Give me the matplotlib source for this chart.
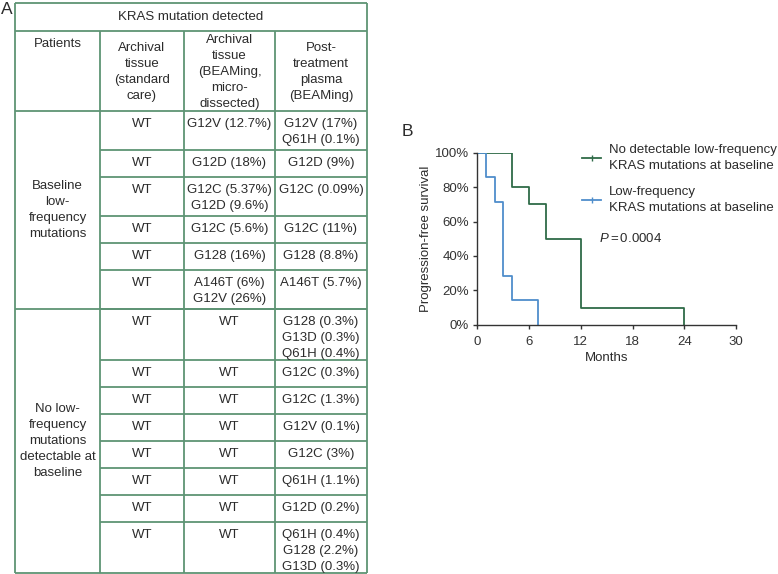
import numpy as np
import matplotlib.pyplot as plt
from matplotlib.lines import Line2D
from matplotlib.ticker import FuncFormatter

plt.rcParams['font.family'] = ['Liberation Sans', 'DejaVu Sans']
plt.rcParams['mathtext.fontset'] = 'custom'
plt.rcParams['mathtext.rm'] = 'Liberation Sans'
plt.rcParams['mathtext.it'] = 'Liberation Sans:italic'

# panel A table data
table_title = "KRAS mutation detected"
col_headers = ["Patients",
               "Archival\ntissue\n(standard\ncare)",
               "Archival\ntissue\n(BEAMing,\nmicro-\ndissected)",
               "Post-\ntreatment\nplasma\n(BEAMing)"]
groups = ["Baseline\nlow-\nfrequency\nmutations",
          "No low-\nfrequency\nmutations\ndetectable at\nbaseline"]
group_sizes = [6, 8]
standard_care = ["WT"] * 14
beaming_tissue = ["G12V (12.7%)", "G12D (18%)", "G12C (5.37%)\nG12D (9.6%)",
                  "G12C (5.6%)", "G128 (16%)", "A146T (6%)\nG12V (26%)"] + ["WT"] * 8
plasma = ["G12V (17%)\nQ61H (0.1%)", "G12D (9%)", "G12C (0.09%)", "G12C (11%)",
          "G128 (8.8%)", "A146T (5.7%)", "G128 (0.3%)\nG13D (0.3%)\nQ61H (0.4%)",
          "G12C (0.3%)", "G12C (1.3%)", "G12V (0.1%)", "G12C (3%)", "Q61H (1.1%)",
          "G12D (0.2%)", "Q61H (0.4%)\nG128 (2.2%)\nG13D (0.3%)"]

# panel B KM data
months_none = [0, 4, 6, 8, 12, 24]
surv_none = [1.0, 0.8, 0.7, 0.5, 0.1, 0.0]
months_low = [0, 1, 2, 3, 4, 7]
surv_low = [1.0, 0.857, 0.714, 0.286, 0.143, 0.0]
label_none = "No detectable low-frequency\nKRAS mutations at baseline"
label_low = "Low-frequency\nKRAS mutations at baseline"
p_text = r"$P = 0.0004$"

txt_col = '#2b2b2b'
grid_col = '#5e9474'
green = '#2f6b48'
blue = '#4f8ecb'
fs = 9.5

fig = plt.figure(figsize=(7.78, 5.74), dpi=100)

# ---- table (pixel coords) ----
tax = fig.add_axes([0, 0, 1, 1])
tax.set_xlim(0, 778)
tax.set_ylim(574, 0)
tax.axis('off')

xs = [15, 100, 184, 275, 367]
top, h1, h2, bottom = 3, 31, 111, 573
lw = 1.3

# row heights from number of text lines
nlines = [max(a.count('\n'), b.count('\n'), c.count('\n')) + 1
          for a, b, c in zip(standard_care, beaming_tissue, plasma)]
heights = np.array([15.3 + 12.1 * n for n in nlines])
heights *= (bottom - h2) / heights.sum()
row_tops = h2 + np.concatenate([[0], np.cumsum(heights)])

# outer frame + header lines
tax.hlines([top, h1, h2, bottom], xs[0], xs[-1], color=grid_col, lw=lw)
tax.vlines([xs[0], xs[-1]], top, bottom, color=grid_col, lw=lw)
tax.vlines(xs[1:4], h1, bottom, color=grid_col, lw=lw)
tax.text((xs[0] + xs[-1]) / 2, (top + h1) / 2, table_title, ha='center', va='center',
         fontsize=fs, color=txt_col)

ls = 1.46
tax.text((xs[0] + xs[1]) / 2, h1 + 7, col_headers[0], ha='center', va='top',
         fontsize=fs, color=txt_col, linespacing=ls)
for i in range(1, 4):
    tax.text((xs[i] + xs[i + 1]) / 2, (h1 + h2) / 2 + 1, col_headers[i], ha='center',
             va='center', fontsize=fs, color=txt_col, linespacing=ls)

# body rows
for r in range(len(plasma)):
    y0 = row_tops[r]
    for j, col in enumerate([standard_care, beaming_tissue, plasma]):
        tax.text((xs[j + 1] + xs[j + 2]) / 2, y0 + 7, col[r], ha='center', va='top',
                 fontsize=fs, color=txt_col, linespacing=ls)
    if r > 0:
        tax.hlines(y0, xs[1], xs[-1], color=grid_col, lw=lw)

start = 0
for g, n in zip(groups, group_sizes):
    ya, yb = row_tops[start], row_tops[start + n]
    tax.text((xs[0] + xs[1]) / 2, (ya + yb) / 2, g, ha='center', va='center',
             fontsize=fs, color=txt_col, linespacing=ls)
    if start > 0:
        tax.hlines(ya, xs[0], xs[-1], color=grid_col, lw=lw)
    start += n

tax.text(1, 9, "A", fontsize=12.5, color=txt_col, va='center', ha='left')
tax.text(402, 131, "B", fontsize=12.5, color=txt_col, va='center', ha='left')

# ---- KM plot ----
ax = fig.add_axes([477.3 / 778, 1 - 324.7 / 574, 258.7 / 778, 172 / 574])
ax.step(months_none, surv_none, where='post', color=green, lw=1.3)
ax.step(months_low, surv_low, where='post', color=blue, lw=1.3)
ax.set_xlim(0, 30)
ax.set_ylim(0, 1)
ax.set_xticks(range(0, 31, 6))
ax.set_yticks(np.arange(0, 1.01, 0.2))
ax.yaxis.set_major_formatter(FuncFormatter(lambda v, p: f"{v * 100:.0f}%"))
for s in ['top', 'right']:
    ax.spines[s].set_visible(False)
for s in ['left', 'bottom']:
    ax.spines[s].set_color('#333333')
    ax.spines[s].set_linewidth(1.0)
ax.tick_params(labelsize=fs, colors='#333333', length=3, width=1.0, pad=3)
ax.tick_params(axis='x', pad=5)
ax.set_xlabel("Months", fontsize=fs, color=txt_col, labelpad=3)
ax.set_ylabel("Progression-free survival", fontsize=fs, color=txt_col, labelpad=2)
ax.patch.set_alpha(0)

handles = [Line2D([], [], color=green, lw=1.3, marker='|', markersize=4),
           Line2D([], [], color=blue, lw=1.3, marker='|', markersize=4)]
fig.legend(handles, [label_none, label_low], loc='upper left',
           bbox_to_anchor=(582 / 778, 1 - 144 / 574), frameon=False, fontsize=fs,
           handlelength=1.45, handletextpad=0.6, labelspacing=1.1, borderpad=0,
           borderaxespad=0, numpoints=1, labelcolor=txt_col)
for t in fig.legends[0].get_texts():
    t.set_linespacing(1.42)
fig.text(599 / 778, 1 - 239 / 574, p_text, fontsize=fs, color=txt_col, va='center')

fig.savefig('out.png', dpi=100)
